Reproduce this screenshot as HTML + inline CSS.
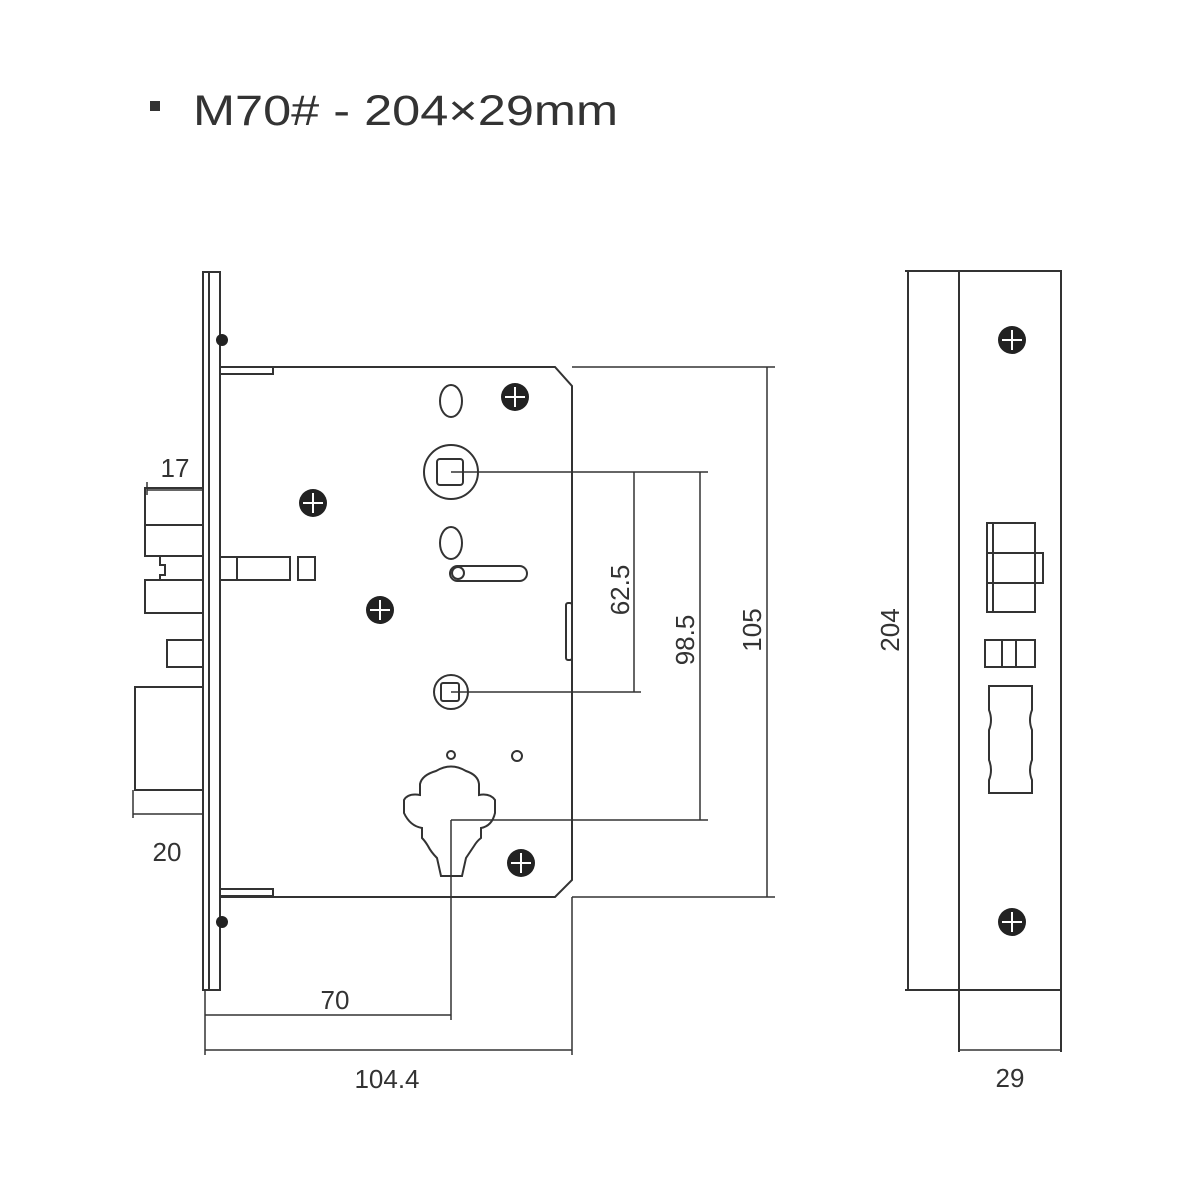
<!DOCTYPE html>
<html><head><style>body{margin:0;background:#fff}svg{display:block}</style></head><body>
<svg width="1200" height="1200" viewBox="0 0 1200 1200" xmlns="http://www.w3.org/2000/svg" font-family="Liberation Sans, sans-serif">
<rect width="1200" height="1200" fill="#fff"/>
<rect x="150" y="101" width="10" height="10" fill="#333"/>
<text x="193" y="125" font-size="43" fill="#333" textLength="425" lengthAdjust="spacingAndGlyphs">M70# - 204×29mm</text>
<g fill="none" stroke="#333" stroke-width="2">
<rect x="203" y="272" width="17" height="718"/>
<line x1="209" y1="272" x2="209" y2="990"/>
<path d="M220 367 H555 L572 386 V880 L555 897 H220"/>
<rect x="220" y="367" width="53" height="7"/>
<rect x="220" y="889" width="53" height="7"/>
<ellipse cx="451" cy="401" rx="11" ry="16"/>
<ellipse cx="451" cy="543" rx="11" ry="16"/>
<circle cx="451" cy="472" r="27"/>
<rect x="437" y="459" width="26" height="26" rx="3"/>
<circle cx="451" cy="692" r="17"/>
<rect x="441" y="683" width="18" height="18" rx="2"/>
<rect x="450" y="566" width="77" height="15" rx="7.5"/>
<circle cx="458" cy="573" r="6"/>
<circle cx="451" cy="755" r="4"/>
<circle cx="517" cy="756" r="5"/>
<rect x="566" y="603" width="6" height="57" rx="2"/>
<path d="M436 771 Q451 762 466 771 Q478 775 479 784 V795 Q490 793 495 800 V813 Q492 826 481 828 V838 Q477 841 474 846 Q470 852 466 858 L462 876 H441 L437 858 Q431 852 428 846 Q425 841 422 838 V828 Q410 826 404 813 V800 Q408 793 420 795 V784 Q422 775 436 771 Z"/>
<rect x="145" y="488" width="58" height="68"/>
<line x1="145" y1="525" x2="203" y2="525"/>
<path d="M203 556 H160 V565 H165 V575 H160 V580 H203"/>
<rect x="145" y="580" width="58" height="33"/>
<rect x="167" y="640" width="36" height="27"/>
<rect x="135" y="687" width="68" height="103"/>
<rect x="220" y="557" width="70" height="23"/>
<line x1="237" y1="557" x2="237" y2="580"/>
<rect x="298" y="557" width="17" height="23"/>
<line x1="905" y1="271" x2="1062" y2="271"/>
<line x1="905" y1="990" x2="1062" y2="990"/>
<line x1="908" y1="271" x2="908" y2="990"/>
<line x1="959" y1="271" x2="959" y2="1052"/>
<line x1="1061" y1="271" x2="1061" y2="1052"/>
<rect x="987" y="523" width="48" height="89"/>
<line x1="993" y1="523" x2="993" y2="612"/>
<rect x="987" y="553" width="56" height="30"/>
<rect x="985" y="640" width="50" height="27"/>
<line x1="1002" y1="640" x2="1002" y2="667"/><line x1="1016" y1="640" x2="1016" y2="667"/>
<path d="M989 686 H1032 V710 Q1028 720 1032 730 V760 Q1028 770 1032 780 V793 H989 V780 Q993 770 989 760 V730 Q993 720 989 710 Z"/>
</g>
<g fill="none" stroke="#333" stroke-width="1.5">
<line x1="451" y1="472" x2="708" y2="472"/>
<line x1="451" y1="692" x2="641" y2="692"/>
<line x1="451" y1="820" x2="708" y2="820"/>
<line x1="572" y1="367" x2="775" y2="367"/>
<line x1="572" y1="897" x2="775" y2="897"/>
<line x1="634" y1="472" x2="634" y2="692"/>
<line x1="700" y1="472" x2="700" y2="820"/>
<line x1="767" y1="367" x2="767" y2="897"/>
<line x1="451" y1="820" x2="451" y2="1020"/>
<line x1="205" y1="990" x2="205" y2="1055"/>
<line x1="572" y1="897" x2="572" y2="1055"/>
<line x1="205" y1="1015" x2="451" y2="1015"/>
<line x1="205" y1="1050" x2="572" y2="1050"/>
<line x1="147" y1="482" x2="147" y2="495"/>
<line x1="147" y1="490" x2="203" y2="490"/>
<line x1="133" y1="790" x2="133" y2="818"/>
<line x1="133" y1="814" x2="203" y2="814"/>
<line x1="959" y1="1050" x2="1061" y2="1050"/>
</g>
<g fill="#222">
<circle cx="515" cy="397" r="14"/><circle cx="313" cy="503" r="14"/><circle cx="380" cy="610" r="14"/><circle cx="521" cy="863" r="14"/>
<circle cx="1012" cy="340" r="14"/><circle cx="1012" cy="922" r="14"/>
<circle cx="222" cy="340" r="6"/><circle cx="222" cy="922" r="6"/>
</g>
<g stroke="#fff" stroke-width="2">
<path d="M515 387v20M505 397h20M313 493v20M303 503h20M380 600v20M370 610h20M521 853v20M511 863h20M1012 330v20M1002 340h20M1012 912v20M1002 922h20"/>
</g>
<g fill="#333" font-size="26">
<text x="175" y="477" text-anchor="middle">17</text>
<text x="167" y="861" text-anchor="middle">20</text>
<text x="335" y="1009" text-anchor="middle">70</text>
<text x="387" y="1088" text-anchor="middle">104.4</text>
<text x="1010" y="1087" text-anchor="middle">29</text>
<text transform="translate(629,590) rotate(-90)" text-anchor="middle">62.5</text>
<text transform="translate(694,640) rotate(-90)" text-anchor="middle">98.5</text>
<text transform="translate(761,630) rotate(-90)" text-anchor="middle">105</text>
<text transform="translate(899,630) rotate(-90)" text-anchor="middle">204</text>
</g>
</svg>
</body></html>
